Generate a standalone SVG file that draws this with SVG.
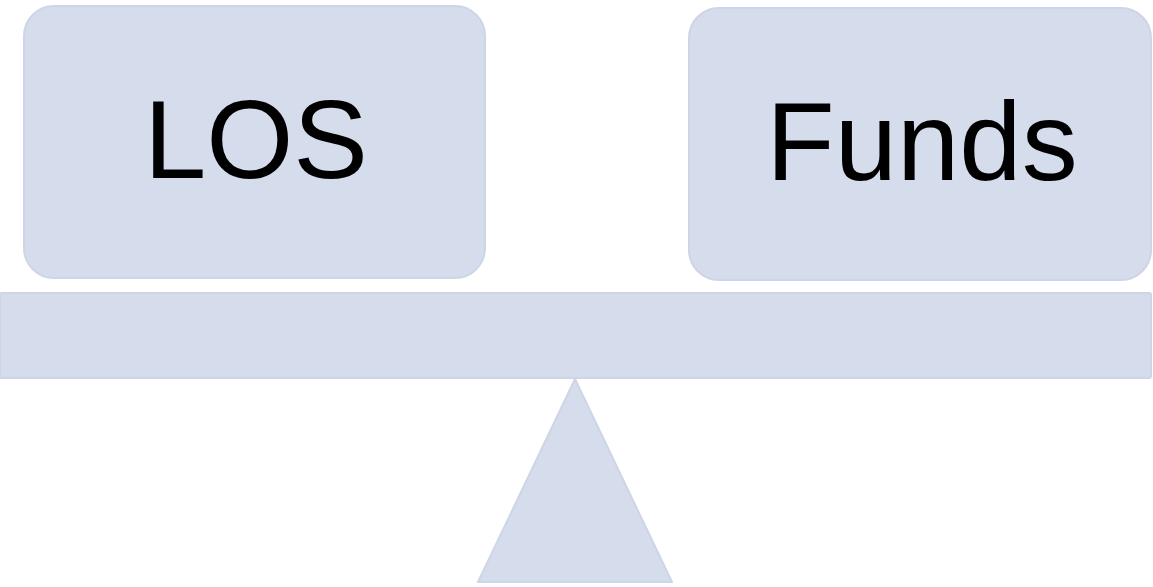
<svg xmlns="http://www.w3.org/2000/svg" width="1153" height="587" viewBox="0 0 1153 587">
  <style>
    .shape { fill: #D5DCEB; stroke: #CDD5E7; stroke-width: 2; stroke-linejoin: round; }
    .label { font-family: "Liberation Sans", Arial, sans-serif; font-size: 112px; fill: #000; text-anchor: middle; }
  </style>
  <rect width="1153" height="587" fill="#FFFFFF"/>
  <!-- fulcrum -->
  <g id="fulcrum">
    <polygon class="shape" points="575,379 672,582 478,582"/>
  </g>
  <!-- balance beam -->
  <g id="beam">
    <rect class="shape" x="0" y="293" width="1151" height="85" rx="2"/>
  </g>
  <g id="los">
    <rect class="shape" x="24" y="6" width="461" height="272" rx="30"/>
    <text class="label" x="256" y="178">LOS</text>
  </g>
  <g id="funds">
    <rect class="shape" x="689" y="8" width="462" height="272" rx="30"/>
    <text class="label" x="922" y="180">Funds</text>
  </g>
  <g id="connectors"/>
</svg>
